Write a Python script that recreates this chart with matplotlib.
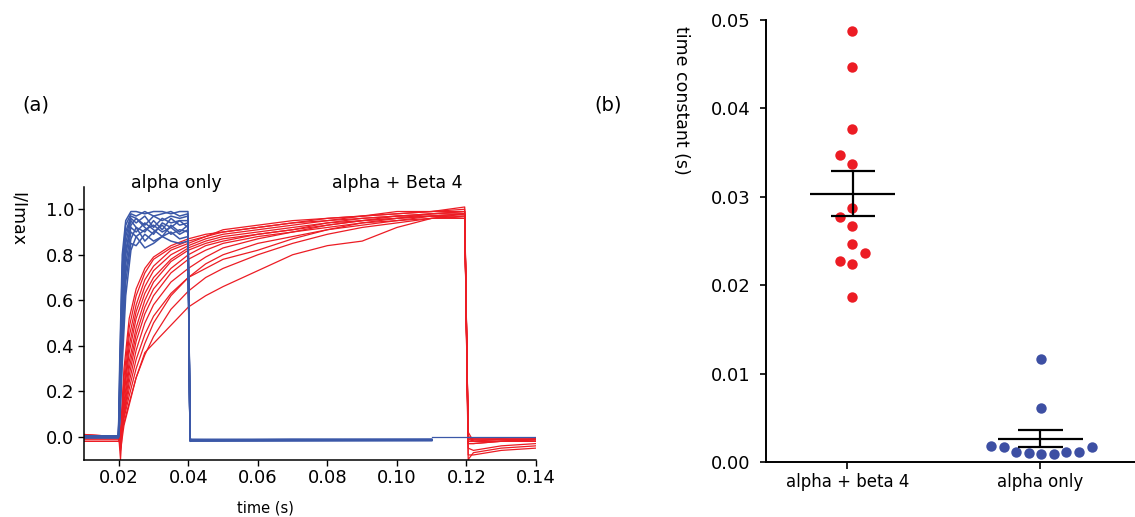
import matplotlib

matplotlib.use("Agg")
import matplotlib.pyplot as plt
import numpy as np

RED = "#ec1c24"
BLUE = "#3b58a8"
DOT_BLUE = "#3d4fa3"

# ---- panel (a): normalised current traces ----
# red traces (alpha + Beta 4), sampled on a shared time axis
t_red = [0.010, 0.0199, 0.0200, 0.0205, 0.0215, 0.0230, 0.0250, 0.0275, 0.0300,
         0.0350, 0.0400, 0.0450, 0.0500, 0.0600, 0.0700, 0.0800, 0.0900, 0.1000,
         0.1100, 0.1195, 0.1205, 0.1220, 0.1300, 0.1400]
red_traces = [
    [0.00, 0.00, 0.00, 0.02, 0.30, 0.52, 0.65, 0.74, 0.79, 0.84, 0.87, 0.89, 0.90, 0.92, 0.94, 0.96, 0.97, 0.98, 0.99, 1.00, 0.00, -0.01, -0.01, -0.01],
    [-0.02, -0.02, -0.02, -0.02, 0.26, 0.48, 0.62, 0.72, 0.78, 0.83, 0.86, 0.88, 0.91, 0.93, 0.95, 0.96, 0.97, 0.99, 0.99, 0.99, -0.02, -0.02, -0.01, -0.01],
    [0.00, 0.00, 0.00, 0.00, 0.22, 0.44, 0.58, 0.69, 0.75, 0.82, 0.85, 0.88, 0.90, 0.92, 0.94, 0.95, 0.96, 0.97, 0.98, 0.98, -0.08, -0.08, -0.06, -0.05],
    [0.01, 0.00, 0.00, -0.05, 0.20, 0.40, 0.55, 0.66, 0.73, 0.80, 0.84, 0.87, 0.89, 0.91, 0.93, 0.95, 0.97, 0.98, 0.99, 1.01, -0.01, -0.01, -0.01, -0.02],
    [-0.01, -0.01, -0.01, 0.00, 0.18, 0.37, 0.52, 0.63, 0.70, 0.78, 0.83, 0.86, 0.88, 0.90, 0.92, 0.94, 0.96, 0.97, 0.97, 0.97, -0.03, -0.03, -0.02, -0.02],
    [0.00, 0.00, 0.00, -0.10, 0.15, 0.33, 0.48, 0.60, 0.68, 0.77, 0.82, 0.85, 0.87, 0.89, 0.91, 0.93, 0.95, 0.96, 0.98, 0.99, -0.10, -0.07, -0.05, -0.04],
    [-0.02, -0.02, -0.02, 0.00, 0.13, 0.30, 0.45, 0.57, 0.65, 0.74, 0.80, 0.84, 0.86, 0.89, 0.91, 0.94, 0.95, 0.97, 0.98, 0.99, 0.00, -0.02, -0.02, -0.01],
    [0.00, 0.00, 0.00, 0.02, 0.11, 0.27, 0.42, 0.54, 0.62, 0.72, 0.78, 0.82, 0.85, 0.88, 0.90, 0.93, 0.95, 0.96, 0.97, 0.98, -0.02, -0.02, -0.02, -0.02],
    [0.01, 0.00, 0.00, 0.00, 0.10, 0.24, 0.38, 0.50, 0.58, 0.68, 0.74, 0.79, 0.83, 0.87, 0.90, 0.92, 0.94, 0.96, 0.97, 0.96, -0.05, -0.06, -0.04, -0.03],
    [0.00, 0.00, 0.00, -0.04, 0.09, 0.21, 0.34, 0.45, 0.53, 0.63, 0.70, 0.76, 0.80, 0.85, 0.88, 0.91, 0.94, 0.95, 0.97, 0.98, 0.00, -0.01, -0.01, -0.01],
    [-0.01, -0.01, -0.01, 0.00, 0.08, 0.18, 0.30, 0.41, 0.50, 0.62, 0.70, 0.74, 0.78, 0.82, 0.87, 0.91, 0.93, 0.95, 0.96, 0.98, -0.03, -0.03, -0.02, -0.02],
    [0.00, 0.00, 0.00, 0.00, 0.06, 0.15, 0.26, 0.36, 0.44, 0.56, 0.64, 0.70, 0.74, 0.80, 0.85, 0.89, 0.92, 0.94, 0.96, 0.97, -0.01, -0.02, -0.02, -0.01],
    [0.00, 0.00, 0.00, -0.06, 0.05, 0.14, 0.26, 0.37, 0.41, 0.49, 0.57, 0.62, 0.66, 0.73, 0.80, 0.84, 0.86, 0.92, 0.96, 0.96, 0.02, -0.02, -0.02, -0.02],
]

# blue traces (alpha only)
t_blue = [0.010, 0.0199, 0.0203, 0.0210, 0.0220, 0.0235, 0.0250, 0.0275, 0.0300,
          0.0325, 0.0350, 0.0375, 0.0399, 0.0405, 0.0410, 0.0700, 0.1100]
blue_traces = [
    [0.000, 0.000, 0.35, 0.80, 0.95, 0.99, 0.99, 0.98, 0.99, 0.99, 0.98, 0.99, 0.99, -0.015, -0.015, -0.012, -0.012],
    [-0.005, -0.005, 0.30, 0.75, 0.93, 0.98, 0.97, 0.99, 0.97, 0.98, 0.99, 0.97, 0.98, -0.012, -0.013, -0.015, -0.014],
    [0.003, 0.003, 0.25, 0.70, 0.90, 0.97, 0.96, 0.93, 0.97, 0.95, 0.97, 0.96, 0.97, -0.018, -0.017, -0.016, -0.015],
    [-0.003, -0.003, 0.22, 0.65, 0.88, 0.96, 0.94, 0.97, 0.92, 0.96, 0.94, 0.95, 0.95, -0.010, -0.012, -0.011, -0.013],
    [0.000, 0.000, 0.20, 0.60, 0.85, 0.95, 0.92, 0.90, 0.95, 0.91, 0.96, 0.93, 0.94, -0.016, -0.018, -0.017, -0.016],
    [0.004, 0.004, 0.18, 0.56, 0.82, 0.93, 0.96, 0.92, 0.89, 0.94, 0.92, 0.95, 0.92, -0.014, -0.014, -0.013, -0.012],
    [-0.004, -0.004, 0.15, 0.52, 0.80, 0.92, 0.90, 0.94, 0.91, 0.88, 0.93, 0.90, 0.93, -0.020, -0.019, -0.018, -0.017],
    [0.002, 0.002, 0.12, 0.48, 0.76, 0.90, 0.88, 0.91, 0.93, 0.90, 0.92, 0.89, 0.91, -0.013, -0.015, -0.014, -0.015],
    [-0.002, -0.002, 0.10, 0.42, 0.72, 0.87, 0.92, 0.86, 0.90, 0.93, 0.89, 0.91, 0.90, -0.017, -0.016, -0.015, -0.016],
    [0.001, 0.001, 0.08, 0.38, 0.68, 0.85, 0.84, 0.89, 0.86, 0.88, 0.90, 0.87, 0.88, -0.011, -0.012, -0.013, -0.011],
    [0.000, 0.000, 0.06, 0.32, 0.62, 0.82, 0.88, 0.83, 0.85, 0.88, 0.86, 0.85, 0.86, -0.015, -0.016, -0.014, -0.014],
]
# one alpha-only sweep runs on to the end of the record at zero
t_blue_tail = [0.1100, 0.1400]
blue_tail = [0.0, 0.0]

# ---- panel (b): fitted time constants (s) ----
groups = ["alpha + beta 4", "alpha only"]
tau_beta4 = [0.0487, 0.0447, 0.0377, 0.0347, 0.0337, 0.0287, 0.0277,
             0.0267, 0.0247, 0.0237, 0.0227, 0.0224, 0.0187]
tau_alpha = [0.0117, 0.0061, 0.0018, 0.0017, 0.0012, 0.0011, 0.0009,
             0.0009, 0.0012, 0.0012, 0.0017]

# horizontal scatter of the dots within each column
jit_beta4 = [0.026, 0.026, 0.026, -0.040, 0.026, 0.026, -0.040,
             0.026, 0.026, 0.092, -0.040, 0.026, 0.026]
jit_alpha = [0.005, 0.005, -0.254, -0.190, -0.125, -0.059, 0.005,
             0.069, 0.135, 0.200, 0.265]

plt.rcParams["font.family"] = "DejaVu Sans"

fig = plt.figure(figsize=(11.35, 5.17), dpi=100)
W, H = 1135, 517


def fx(px):
    return px / W


def fy(py):
    return 1 - py / H


# panel (a)
ax = fig.add_axes([fx(84), fy(459.5), fx(536 - 84), (459.5 - 186.5) / H])
for y in red_traces:
    ax.plot(t_red, y, color=RED, lw=0.9)
for y in blue_traces:
    ax.plot(t_blue, y, color=BLUE, lw=1.1)
ax.plot(t_blue_tail, blue_tail, color=BLUE, lw=0.9)

ax.set_xlim(0.01, 0.14)
ax.set_ylim(-0.1, 1.1)
ax.set_xticks(np.arange(0.02, 0.141, 0.02))
ax.set_xticklabels(["0.02", "0.04", "0.06", "0.08", "0.10", "0.12", "0.14"])
ax.set_yticks(np.arange(0.0, 1.01, 0.2))
ax.set_yticklabels(["0.0", "0.2", "0.4", "0.6", "0.8", "1.0"])
for s in ("top", "right"):
    ax.spines[s].set_visible(False)
for s in ("left", "bottom"):
    ax.spines[s].set_linewidth(1.1)
ax.tick_params(direction="out", length=4, width=1.0, labelsize=13, pad=3)

fig.text(fx(36), fy(105), "(a)", fontsize=14, ha="center", va="center")
fig.text(fx(18), fy(219), "I/Imax", fontsize=12.5, rotation=270,
         ha="center", va="center")
fig.text(fx(176), fy(183), "alpha only", fontsize=12.5, ha="center", va="center")
fig.text(fx(397), fy(183), "alpha + Beta 4", fontsize=12.5, ha="center", va="center")
fig.text(fx(265), fy(508), "time (s)", fontsize=10.5, ha="center", va="center")

# panel (b)
bx = fig.add_axes([fx(765.7), fy(462.3), 1 - fx(765.7), (462.3 - 20) / H])
xpos = [0, 1]
for x0, vals, jit, col in ((xpos[0], tau_beta4, jit_beta4, RED),
                           (xpos[1], tau_alpha, jit_alpha, DOT_BLUE)):
    bx.plot(np.array(jit) + x0, vals, "o", color=col, ms=7.5, mec="none",
            clip_on=False, zorder=2)

bar_off = [0.028, 0.0]
for x0, vals, off in zip(xpos, (tau_beta4, tau_alpha), bar_off):
    v = np.array(vals)
    m = v.mean()
    sem = v.std(ddof=1) / np.sqrt(len(v))
    xc = x0 + off
    bx.hlines(m, xc - 0.22, xc + 0.22, color="black", lw=1.6, zorder=3)
    bx.hlines([m - sem, m + sem], xc - 0.115, xc + 0.115, color="black",
              lw=1.6, zorder=3)
    bx.vlines(xc, m - sem, m + sem, color="black", lw=1.6, zorder=3)

bx.set_xlim(-0.4235, 1.49)
bx.set_ylim(0, 0.05)
bx.set_xticks(xpos)
bx.set_xticklabels(groups)
bx.set_yticks(np.arange(0, 0.051, 0.01))
bx.set_yticklabels(["0.00", "0.01", "0.02", "0.03", "0.04", "0.05"])
for s in ("top", "right"):
    bx.spines[s].set_visible(False)
for s in ("left", "bottom"):
    bx.spines[s].set_linewidth(1.4)
bx.tick_params(axis="y", direction="out", length=4, width=1.2, labelsize=13, pad=7)
bx.tick_params(axis="x", direction="out", length=5, width=1.2, labelsize=12, pad=3)

fig.text(fx(608), fy(105), "(b)", fontsize=14, ha="center", va="center")
fig.text(fx(681), fy(100), "time constant (s)", fontsize=12.5, rotation=270,
         ha="center", va="center")

fig.savefig("out.png", dpi=100)
